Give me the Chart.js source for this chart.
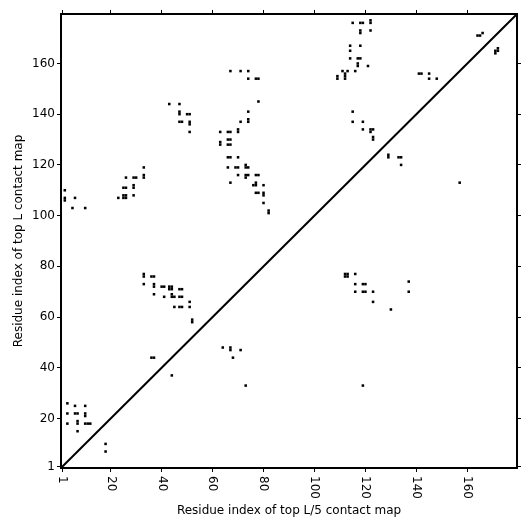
<!DOCTYPE html>
<html><head><meta charset="utf-8">
<script src="https://cdn.jsdelivr.net/npm/chart.js@4"></script>
<style>html,body{margin:0;padding:0;background:#fff}canvas{display:block}</style>
</head><body>
<canvas id="c" width="531" height="531"></canvas>
<script>
const axisMin = 0.5;
const axisMax = 179.5;
const tickValues = [1, 20, 40, 60, 80, 100, 120, 140, 160];
const tickLabels = ['1', '20', '40', '60', '80', '100', '120', '140', '160'];
const diagonalEnds = [0.5, 179.5];
const xTitle = 'Residue index of top L/5 contact map';
const yTitle = 'Residue index of top L contact map';

// contacts above the diagonal (top L map)
const topLContacts = [
  [2,110],[2,106],[2,107],[6,107],[5,103],[10,103],
  [23,107],[25,107],[26,107],[25,108],[26,108],[25,111],[26,111],[26,115],[29,111],[29,112],[29,115],[30,115],[29,108],[33,119],[33,115],[33,116],
  [43,144],[47,144],[47,140],[47,141],[50,140],[51,140],[47,137],[48,137],[51,136],[51,137],[51,133],
  [63,133],[66,133],[67,133],[70,133],[70,134],[63,128],[63,129],[66,130],[67,130],[66,128],[67,128],
  [66,123],[67,123],[70,123],[66,119],[69,119],[70,119],[73,119],[74,119],[73,120],[70,116],[73,116],[74,116],[73,115],[77,116],[78,116],
  [67,113],[76,112],[77,112],[77,113],[80,112],[77,109],[78,109],[80,108],[80,109],[80,105],[82,101],[82,102],
  [67,157],[71,157],[74,157],[74,154],[77,154],[78,154],[78,145],[74,141],[71,137],[74,137],[74,138],
  [115,176],[118,176],[119,176],[122,176],[122,177],[118,172],[118,173],[122,173],[114,167],[114,165],[118,167],
  [114,162],[117,162],[118,162],[117,159],[117,160],[121,159],[109,154],[109,155],[112,154],[112,155],[112,156],[113,157],[116,157],[111,157],
  [141,156],[142,156],[145,156],[145,154],[148,154],
  [115,141],[115,137],[119,137],[119,134],[122,134],[123,134],[122,133],[123,130],[123,131],
  [164,171],[165,171],[166,172],
  [3,26],[6,25],[10,25],[3,22],[6,22],[7,22],[10,21],[10,22],[3,18],[7,18],[7,19],[10,18],[11,18],[12,18],[7,15],
  [36,44],[37,44]
];

// contacts below the diagonal (top L/5 map)
const topL5Contacts = [
  [33,76],[33,77],[36,76],[37,76],[33,73],[37,72],[37,73],[40,72],[41,72],[43,72],[44,72],[43,71],[44,71],[47,71],[48,71],
  [37,69],[41,68],[44,68],[45,68],[44,69],[47,68],[48,68],[51,66],[45,64],[47,64],[48,64],[51,64],[52,58],[52,59],[44,37],
  [64,48],[67,47],[67,48],[71,47],[68,44],[73,33],
  [112,76],[113,76],[113,77],[112,77],[116,77],[116,73],[119,73],[120,73],[116,70],[119,70],[120,70],[123,70],[123,66],[137,74],[137,70],[130,63],[119,33],
  [129,123],[129,124],[133,123],[134,123],[134,120],
  [157,113],[171,164],[171,165],[172,165],[172,166],
  [18,10],[18,7]
];

const FONT = 'DejaVu Sans';
const toPts = arr => arr.map(p => ({x: p[0], y: p[1]}));
const setTicks = s => { s.ticks = tickValues.map(v => ({value: v})); };
const gridOpts = {drawOnChartArea: false, drawTicks: true, tickLength: 4, color: '#000', lineWidth: 1};
const borderOpts = {display: true, color: '#000', width: 2};

const xTickLabelPlugin = {
  id: 'xTickLabels',
  afterDraw(chart) {
    const s = chart.scales.x;
    const ctx = chart.ctx;
    ctx.save();
    ctx.font = '12px "' + FONT + '"';
    ctx.fillStyle = '#000';
    ctx.textAlign = 'left';
    ctx.textBaseline = 'middle';
    tickValues.forEach((v, i) => {
      const px = s.getPixelForValue(v);
      ctx.save();
      ctx.translate(px, s.top + 8);
      ctx.rotate(Math.PI / 2);
      ctx.fillText(tickLabels[i], 0, 0);
      ctx.restore();
    });
    ctx.restore();
  }
};

new Chart(document.getElementById('c'), {
  type: 'scatter',
  data: {
    datasets: [
      {
        label: 'top L',
        data: toPts(topLContacts),
        pointStyle: 'rect',
        pointRadius: 1.8,
        pointHoverRadius: 1.8,
        borderWidth: 0,
        backgroundColor: '#000'
      },
      {
        label: 'top L/5',
        data: toPts(topL5Contacts),
        pointStyle: 'rect',
        pointRadius: 1.8,
        pointHoverRadius: 1.8,
        borderWidth: 0,
        backgroundColor: '#000'
      },
      {
        type: 'line',
        label: 'diagonal',
        data: diagonalEnds.map(v => ({x: v, y: v})),
        borderColor: '#000',
        borderWidth: 2,
        pointRadius: 0,
        showLine: true,
        fill: false
      }
    ]
  },
  options: {
    responsive: false,
    animation: false,
    events: [],
    layout: {padding: 0},
    plugins: {legend: {display: false}, tooltip: {enabled: false}},
    scales: {
      x: {
        type: 'linear', position: 'bottom', min: axisMin, max: axisMax,
        afterBuildTicks: setTicks,
        afterFit: s => { s.height = 63; },
        ticks: {display: false},
        grid: gridOpts, border: borderOpts,
        title: {display: true, text: xTitle, color: '#000', font: {family: FONT, size: 12}, padding: {top: 0, bottom: 13}}
      },
      x2: {
        type: 'linear', position: 'top', min: axisMin, max: axisMax,
        afterBuildTicks: setTicks,
        afterFit: s => { s.height = 14; },
        ticks: {display: false},
        grid: gridOpts, border: borderOpts
      },
      y: {
        type: 'linear', position: 'left', min: axisMin, max: axisMax,
        afterBuildTicks: setTicks,
        afterFit: s => { s.width = 61; },
        ticks: {display: true, color: '#000', padding: 2, font: {family: FONT, size: 12},
          callback: v => { const i = tickValues.indexOf(v); return i >= 0 ? tickLabels[i] : ''; }},
        grid: gridOpts, border: borderOpts,
        title: {display: true, text: yTitle, color: '#000', font: {family: FONT, size: 12}, padding: {top: 12, bottom: 0}}
      },
      y2: {
        type: 'linear', position: 'right', min: axisMin, max: axisMax,
        afterBuildTicks: setTicks,
        afterFit: s => { s.width = 14; },
        ticks: {display: false},
        grid: gridOpts, border: borderOpts
      }
    }
  },
  plugins: [xTickLabelPlugin]
});
</script>
</body></html>
